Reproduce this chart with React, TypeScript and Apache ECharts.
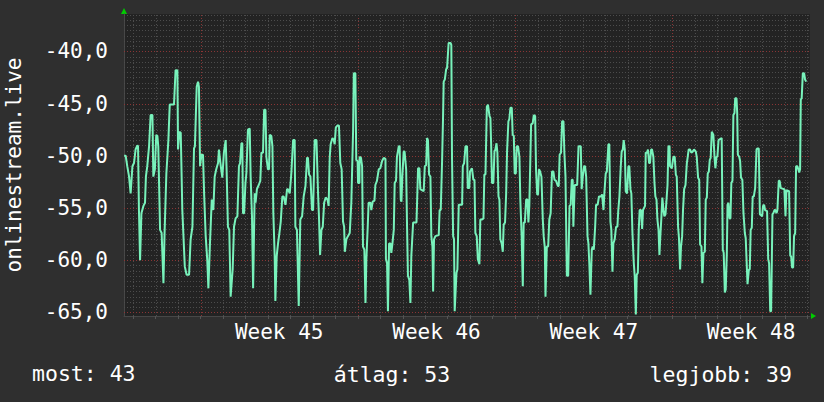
import React, { useEffect, useRef } from 'react';
import * as echarts from 'echarts';

// time in days relative to Monday 00:00 of Week 45
const times: number[] = [
  -3.40, -3.33, -3.26, -3.18, -3.11, -3.03, -2.96, -2.89, -2.81, -2.78, -2.74, -2.69, -2.63, -2.54, -2.47, -2.43, -2.37, -2.29, -2.22, -2.14,
  -2.10, -2.03, -1.97, -1.92, -1.88, -1.80, -1.73, -1.65, -1.60, -1.52, -1.43, -1.37, -1.18, -1.11, -1.03, -1.00, -0.94, -0.88, -0.81, -0.70,
  -0.62, -0.51, -0.44, -0.36, -0.29, -0.25, -0.17, -0.11, -0.07, -0.02, 0.04, 0.11, 0.16, 0.23, 0.30, 0.35, 0.42, 0.50, 0.57, 0.63,
  0.70, 0.78, 0.82, 0.90, 0.97, 1.04, 1.12, 1.16, 1.22, 1.28, 1.34, 1.43, 1.49, 1.56, 1.64, 1.71, 1.76,
  1.82, 1.86, 1.89, 1.94, 2.00, 2.04, 2.11, 2.19, 2.23, 2.29, 2.34, 2.41, 2.45, 2.51, 2.59, 2.66, 2.71, 2.78, 2.83, 2.89,
  2.93, 3.00, 3.05, 3.08, 3.15, 3.20, 3.24, 3.30, 3.33, 3.39, 3.45, 3.51, 3.57, 3.64, 3.70, 3.78, 3.85, 3.89, 3.97, 4.04,
  4.12, 4.19, 4.22, 4.29, 4.37, 4.44, 4.52, 4.59, 4.67, 4.74, 4.78, 4.83, 4.89, 4.96, 5.01, 5.08, 5.16, 5.23, 5.27, 5.32,
  5.38, 5.44, 5.50, 5.57, 5.65, 5.70, 5.75, 5.79, 5.87, 5.93, 5.97, 6.02, 6.09, 6.16, 6.22, 6.28, 6.34, 6.39, 6.42, 6.49,
  6.56, 6.64, 6.71, 6.79,
  6.82, 6.89, 6.93, 6.99, 7.01, 7.07, 7.08, 7.14, 7.19, 7.23, 7.29, 7.34, 7.38, 7.44, 7.48, 7.56, 7.60, 7.66, 7.74, 7.78,
  7.85, 7.93, 8.00, 8.08, 8.15, 8.23, 8.25, 8.30, 8.34, 8.39, 8.45, 8.49, 8.54, 8.60, 8.64, 8.70, 8.74, 8.82, 8.86, 8.91,
  8.94, 8.98, 9.04, 9.08, 9.15, 9.19, 9.23, 9.29, 9.34, 9.38, 9.46, 9.61, 9.68, 9.74, 9.78, 9.93, 9.98, 10.04, 10.08, 10.12,
  10.17, 10.23, 10.27, 10.32, 10.35, 10.39, 10.45, 10.60, 10.64, 10.69, 10.75, 10.79, 10.82, 10.87, 10.93, 10.97, 11.04, 11.13, 11.16, 11.19,
  11.24, 11.28, 11.31, 11.39, 11.43, 11.49, 11.64, 11.67, 11.73, 11.79,
  11.86, 11.89, 11.96, 11.99, 12.08, 12.14, 12.19, 12.23, 12.29, 12.34, 12.41, 12.45, 12.53, 12.59, 12.63, 12.68, 12.74, 12.79, 12.86, 12.90,
  12.93, 12.97, 13.03, 13.08, 13.12, 13.17, 13.21, 13.26, 13.30, 13.34, 13.40, 13.45, 13.49, 13.55, 13.60, 13.64, 13.70, 13.74, 13.79, 13.85,
  13.89, 13.94, 13.98, 14.03, 14.07, 14.13, 14.19, 14.23, 14.29, 14.34, 14.38, 14.43, 14.49, 14.55, 14.59, 14.63, 14.71, 14.78, 14.83, 14.89,
  14.93, 14.98, 15.02, 15.06, 15.11, 15.17, 15.23, 15.27, 15.32, 15.35, 15.41, 15.47, 15.52, 15.58, 15.64, 15.70, 15.75, 15.82, 15.90, 15.94,
  15.98, 16.04, 16.09, 16.15, 16.19, 16.24, 16.30, 16.36, 16.42, 16.47, 16.52, 16.56, 16.59, 16.65, 16.76, 16.82, 16.92,
  16.96, 17.01, 17.07, 17.11, 17.16, 17.22, 17.26, 17.30, 17.35, 17.41, 17.45, 17.50, 17.56, 17.60, 17.67, 17.73, 17.82, 17.87, 17.93, 17.97,
  18.03, 18.08, 18.15, 18.19, 18.24, 18.28, 18.33, 18.37, 18.43, 18.49, 18.55, 18.59, 18.64, 18.70, 18.74, 18.79, 18.83, 18.88, 18.92, 18.98,
  19.04, 19.08, 19.13, 19.17, 19.22, 19.28, 19.32, 19.37, 19.41, 19.46, 19.50, 19.54, 19.60, 19.65, 19.69, 19.78, 19.81, 19.87, 19.91, 19.96,
  20.00, 20.05, 20.09, 20.15, 20.20, 20.24, 20.29, 20.33, 20.38, 20.42, 20.46, 20.51, 20.55, 20.60, 20.64, 20.69, 20.73, 20.78, 20.82, 20.87,
  20.89, 20.97, 21.04, 21.10, 21.15, 21.19, 21.25, 21.29, 21.34, 21.38, 21.43, 21.47, 21.52, 21.58, 21.64, 21.68, 21.72, 21.78, 21.84, 21.90,
  21.96,
  22.04, 22.08, 22.14, 22.19, 22.23, 22.29, 22.33, 22.38, 22.44, 22.48, 22.53, 22.57, 22.62, 22.66, 22.70, 22.75, 22.82, 22.87, 22.91, 22.96,
  23.00, 23.05, 23.19, 23.24, 23.28, 23.33, 23.37, 23.42, 23.45, 23.49, 23.54, 23.58, 23.62, 23.67, 23.71, 23.76, 23.79, 23.85, 23.88, 23.91,
  23.97, 24.01, 24.05, 24.11, 24.16, 24.22, 24.26, 24.31, 24.34, 24.40, 24.44, 24.48, 24.53, 24.57, 24.62, 24.68, 24.74, 24.78, 24.84, 24.89,
  24.99, 25.03, 25.08, 25.12, 25.21, 25.26, 25.30, 25.35, 25.39, 25.45, 25.49, 25.54, 25.58, 25.63, 25.67, 25.73, 25.77, 25.82, 25.98, 26.03,
  26.07, 26.19, 26.24, 26.28, 26.32, 26.37, 26.41, 26.46, 26.50, 26.56, 26.64, 26.68, 26.71, 26.75, 26.80, 26.86, 26.90, 26.95,
];

const values: number[] = [
  -50.0, -50.0, -51.0, -52.0, -53.6, -51.0, -50.7, -49.4, -49.0, -49.1, -55.2, -60.0, -55.5, -54.8, -54.5, -52.0, -51.0, -49.1, -46.1, -46.1,
  -52.0, -51.3, -48.0, -48.1, -49.1, -57.1, -57.4, -62.2, -57.4, -51.7, -48.5, -45.1, -45.1, -41.8, -41.8, -49.4, -47.7, -47.8, -55.2, -60.6,
  -61.4, -61.4, -58.0, -56.8, -49.3, -49.1, -43.4, -42.9, -43.4, -51.0, -49.9, -49.9, -53.6, -57.7, -60.0, -62.7, -58.4, -54.2, -55.2, -52.0,
  -51.3, -50.7, -49.4, -51.0, -52.1, -49.7, -48.5, -51.3, -56.8, -57.1, -63.5, -60.9, -56.8, -56.0, -55.8, -51.0, -50.7,
  -48.8, -48.8, -55.5, -55.5, -52.6, -51.7, -47.5, -47.4, -52.0, -55.8, -62.7, -53.6, -54.5, -53.2, -52.8, -52.4, -49.7, -49.7, -45.6, -45.6,
  -50.1, -51.3, -51.3, -48.0, -48.1, -49.1, -55.5, -59.6, -63.9, -59.6, -58.4, -57.4, -56.3, -53.9, -53.9, -54.7, -53.2, -53.2, -53.6, -51.7,
  -48.5, -48.5, -56.8, -57.1, -64.4, -56.1, -55.8, -53.9, -52.9, -50.2, -50.2, -51.8, -52.0, -55.2, -55.2, -48.5, -48.5, -53.6, -55.8, -59.5,
  -57.1, -56.8, -54.5, -54.0, -54.2, -54.8, -50.1, -48.9, -48.3, -48.5, -48.9, -47.3, -47.1, -47.1, -50.7, -51.3, -56.3, -56.8, -59.2, -58.0,
  -57.7, -57.4, -54.5, -47.5,
  -42.1, -42.1, -50.4, -50.5, -52.6, -52.6, -50.1, -50.2, -51.0, -58.7, -59.0, -64.1, -59.9, -56.8, -54.5, -54.5, -55.2, -54.4, -54.3, -52.8,
  -52.4, -51.3, -51.2, -50.5, -50.2, -50.3, -59.9, -60.3, -64.9, -58.4, -58.4, -59.3, -58.4, -57.1, -52.6, -52.4, -50.1, -49.1, -49.1, -54.2,
  -54.4, -52.0, -49.6, -49.6, -51.3, -56.8, -61.5, -61.9, -64.1, -59.6, -56.4, -56.4, -51.2, -51.2, -53.2, -53.4, -51.0, -50.9, -48.3, -48.5,
  -51.8, -52.0, -57.7, -58.7, -63.0, -58.0, -57.7, -57.6, -55.2, -55.2, -50.4, -46.5, -42.9, -42.7, -41.7, -41.6, -39.2, -39.2, -39.4, -50.1,
  -57.7, -58.0, -64.9, -61.2, -60.9, -54.7, -54.7, -51.0, -50.7, -49.1,
  -49.1, -53.1, -53.1, -51.5, -51.2, -52.3, -52.3, -57.4, -57.7, -59.9, -60.4, -56.1, -56.1, -56.0, -51.8, -51.8, -45.3, -45.1, -46.2, -46.4,
  -48.8, -52.6, -52.6, -49.6, -49.4, -48.8, -49.7, -53.9, -54.2, -58.0, -58.4, -59.2, -56.6, -56.4, -53.6, -49.6, -46.7, -46.5, -45.4, -45.4,
  -48.0, -48.1, -51.7, -51.7, -49.1, -49.1, -50.1, -54.2, -57.7, -62.5, -56.4, -56.4, -54.2, -54.2, -56.4, -54.8, -47.0, -46.9, -46.1, -46.2,
  -51.3, -53.7, -53.7, -51.3, -51.5, -52.0, -56.1, -57.7, -58.8, -63.5, -58.7, -58.7, -56.1, -55.5, -51.5, -51.5, -52.3, -52.4, -52.9, -52.9,
  -49.9, -49.7, -46.7, -46.7, -49.7, -52.0, -61.5, -61.5, -54.8, -54.7, -52.3, -52.3, -56.8, -52.8, -52.8, -49.1, -49.1,
  -53.2, -52.0, -51.0, -51.0, -52.0, -57.7, -58.4, -60.3, -63.3, -59.0, -58.7, -59.0, -56.8, -54.7, -54.7, -53.9, -53.9, -53.7, -55.2, -53.6,
  -51.7, -51.5, -48.9, -48.9, -56.3, -57.1, -61.1, -58.4, -58.0, -56.8, -56.8, -55.2, -53.9, -51.0, -49.6, -49.4, -48.5, -49.4, -53.4, -53.6,
  -51.0, -51.0, -53.2, -53.6, -57.4, -60.3, -61.5, -65.2, -61.4, -61.2, -57.1, -55.2, -55.2, -57.0, -55.2, -54.8, -49.7, -49.7, -49.4, -50.7,
  -50.7, -49.4, -49.4, -50.1, -52.6, -53.9, -54.2, -56.1, -57.1, -59.5, -57.7, -55.8, -54.0, -55.2, -55.8, -55.6, -54.4, -52.8, -49.1, -49.1,
  -51.0, -51.2, -50.1, -50.1, -51.8, -52.0, -56.8, -57.9, -60.9, -58.7, -57.7, -55.2, -53.2, -52.8, -50.7, -50.1, -49.4, -49.4, -49.7, -49.6,
  -49.4,
  -49.6, -50.1, -52.1, -52.3, -58.5, -58.7, -62.2, -59.3, -59.2, -54.2, -54.0, -51.7, -51.5, -50.4, -50.2, -47.7, -48.0, -50.1, -51.2, -50.1,
  -50.1, -48.5, -48.3, -59.0, -59.3, -63.1, -62.8, -59.3, -54.7, -54.5, -56.0, -56.0, -52.6, -52.4, -46.1, -45.9, -44.5, -44.5, -45.9, -49.9,
  -50.1, -50.5, -52.1, -52.3, -55.5, -57.4, -57.9, -60.7, -62.3, -60.9, -60.9, -57.1, -56.9, -53.9, -53.9, -53.1, -49.4, -49.3, -49.3, -55.6,
  -55.8, -54.8, -54.7, -55.2, -55.3, -59.9, -60.3, -64.9, -64.9, -55.6, -55.5, -55.2, -55.2, -55.5, -55.2, -52.4, -52.4, -53.1, -53.2, -55.8,
  -53.3, -53.4, -59.6, -59.6, -60.7, -60.7, -57.7, -57.4, -51.0, -51.0, -51.6, -51.3, -44.6, -44.5, -42.1, -42.1, -42.7, -42.9,
];

const yTickValues = [-65, -60, -55, -50, -45, -40];
const weekCenters = [3.5, 10.5, 17.5, 24.5];
const weekLabels = ['Week 45', 'Week 46', 'Week 47', 'Week 48'];
const weekStarts = [0, 7, 14, 21];
const yAxisTitle = 'onlinestream.live';
const footerNow = 'most: 43';
const footerAvg = 'átlag: 53';
const footerBest = 'legjobb: 39';

const X_MIN = -3.405;
const X_MAX = 27.12;
const Y_MIN = -65.35;
const Y_MAX = -36.42;

const FONT = '"DejaVu Sans Mono", monospace';
const LINE_COLOR = '#78f2bb';
const MINOR = '#4c4c4c';
const MAJOR = '#8a3535';

export default function App() {
  const ref = useRef<HTMLDivElement>(null);
  useEffect(() => {
    if (!ref.current) return;
    const chart = echarts.init(ref.current, undefined, { renderer: 'svg' });

    const vGrid: number[][] = [];
    for (let d = Math.ceil(X_MIN); d <= Math.floor(X_MAX); d++) {
      vGrid.push([d, Y_MIN, weekStarts.includes(d) ? 1 : 0]);
    }
    const hGrid: number[][] = [];
    for (let k = Math.ceil(Y_MIN * 2); k <= Math.floor(Y_MAX * 2); k++) {
      const v = k / 2;
      hGrid.push([X_MIN, v, v % 5 === 0 ? 1 : 0]);
    }
    const dayTicks: number[] = [];
    for (let d = Math.ceil(X_MIN); d <= Math.floor(X_MAX); d++) dayTicks.push(d);

    const gridRender = (vertical: boolean) => (params: any, api: any) => {
      const a = api.value(0);
      const b = api.value(1);
      const major = api.value(2);
      let p1, p2;
      if (vertical) {
        p1 = api.coord([a, Y_MIN]);
        p2 = api.coord([a, Y_MAX]);
        const x = Math.round(p1[0]) + 0.5;
        return {
          type: 'line',
          shape: { x1: x, y1: p1[1], x2: x, y2: p2[1] },
          style: { stroke: major ? MAJOR : MINOR, lineWidth: 1, lineDash: [1, 2] },
        };
      }
      p1 = api.coord([X_MIN, b]);
      p2 = api.coord([X_MAX, b]);
      const y = Math.round(p1[1]) + 0.5;
      return {
        type: 'line',
        shape: { x1: p1[0], y1: y, x2: p2[0], y2: y },
        style: { stroke: major ? MAJOR : MINOR, lineWidth: 1, lineDash: [1, 2] },
      };
    };

    const fmtY = (v: number) => v.toFixed(1).replace('.', ',');

    chart.setOption({
      animation: false,
      backgroundColor: '#2f2f2f',
      textStyle: { fontFamily: FONT },
      grid: {
        left: 124, right: 14, top: 14, bottom: 86,
        show: true, backgroundColor: '#232323', borderWidth: 0,
      },
      xAxis: {
        type: 'value',
        min: X_MIN,
        max: X_MAX,
        splitLine: { show: false },
        axisLine: { show: true, onZero: false, lineStyle: { color: '#474747', width: 1 } },
        axisTick: { show: true, customValues: dayTicks, length: 3, lineStyle: { color: '#555' } },
        axisLabel: {
          customValues: weekCenters,
          formatter: (v: number) => {
            const i = weekCenters.findIndex((c) => Math.abs(c - v) < 1e-6);
            return i >= 0 ? weekLabels[i] : '';
          },
          color: '#ffffff',
          fontFamily: FONT,
          fontSize: 21,
          margin: 5,
        },
      },
      yAxis: {
        type: 'value',
        min: Y_MIN,
        max: Y_MAX,
        splitLine: { show: false },
        axisLine: { show: true, onZero: false, lineStyle: { color: '#474747', width: 1 } },
        axisTick: { show: false },
        axisLabel: {
          customValues: yTickValues,
          formatter: fmtY,
          color: '#ffffff',
          fontFamily: FONT,
          fontSize: 21,
          margin: 16,
        },
      },
      series: [
        {
          type: 'custom',
          silent: true,
          z: 1,
          renderItem: gridRender(true),
          data: vGrid,
        },
        {
          type: 'custom',
          silent: true,
          z: 1,
          renderItem: gridRender(false),
          data: hGrid,
        },
        {
          type: 'line',
          z: 5,
          showSymbol: false,
          symbol: 'none',
          silent: true,
          lineStyle: { color: LINE_COLOR, width: 2 },
          data: times.map((t, i) => [t, values[i]]),
        },
      ],
      graphic: [
        {
          type: 'text',
          x: 14,
          y: 165,
          rotation: Math.PI / 2,
          style: {
            text: yAxisTitle,
            fill: '#ffffff',
            font: `21px ${FONT}`,
            textAlign: 'center',
            textVerticalAlign: 'middle',
          },
        },
        {
          type: 'text',
          left: 32,
          top: 362,
          style: { text: footerNow, fill: '#ffffff', font: `21.5px ${FONT}` },
        },
        {
          type: 'text',
          x: 392,
          y: 374,
          style: { text: footerAvg, fill: '#ffffff', font: `21.5px ${FONT}`, textAlign: 'center', textVerticalAlign: 'middle' },
        },
        {
          type: 'text',
          x: 792,
          y: 374,
          style: { text: footerBest, fill: '#ffffff', font: `21.5px ${FONT}`, textAlign: 'right', textVerticalAlign: 'middle' },
        },
        {
          type: 'polygon',
          shape: { points: [[121, 14], [127, 14], [124, 8]] },
          style: { fill: '#00cc00' },
        },
        {
          type: 'polygon',
          shape: { points: [[811, 313], [811, 319], [816, 316]] },
          style: { fill: '#00cc00' },
        },
      ],
    });
    return () => chart.dispose();
  }, []);
  return <div ref={ref} style={{ position: 'fixed', left: 0, top: 0, width: 824, height: 402 }} />;
}
